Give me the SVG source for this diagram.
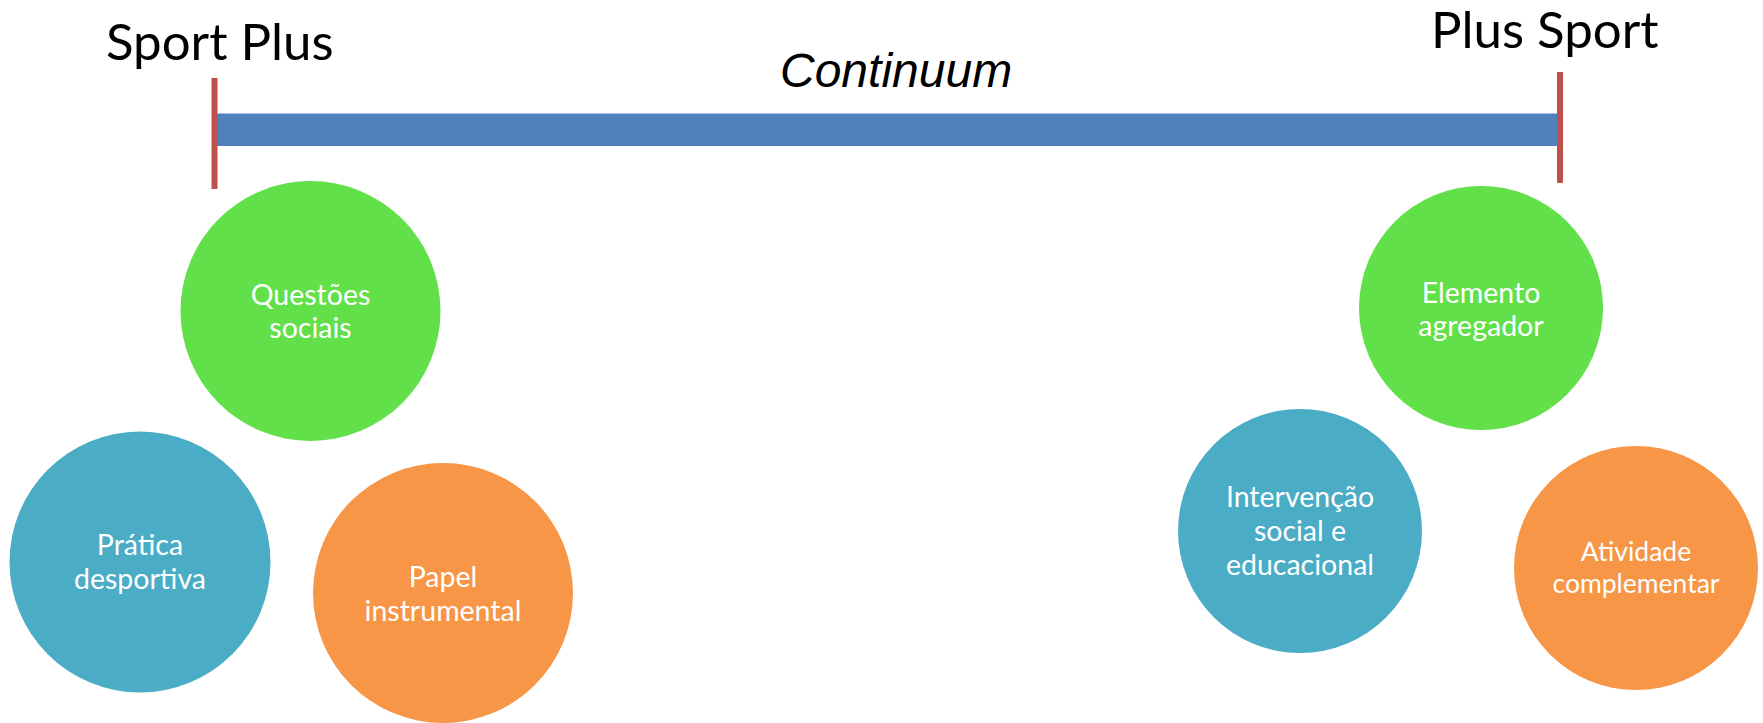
<svg xmlns="http://www.w3.org/2000/svg" width="1763" height="723" viewBox="0 0 1763 723">
  <style>
    .title { font-family: Lato, "Liberation Sans", sans-serif; font-size: 51px; fill: #000000; }
    .cont { font-family: "Liberation Sans", Arial, sans-serif; font-size: 48px; font-style: italic; fill: #000000; }
    .lbl { font-family: Lato, "Liberation Sans", sans-serif; font-size: 28.5px; fill: #FFFFFF; text-anchor: middle; }
    .sm { font-size: 26.5px; }
    .green { fill: #62E04A; }
    .blue { fill: #4BACC6; }
    .orange { fill: #F79646; }
    .bar { fill: #4F81BD; }
    .tick { fill: #C0504D; }
  </style>
  <rect x="0" y="0" width="1763" height="723" fill="#FFFFFF"/>

  <g id="continuum">
    <rect class="bar" x="216" y="113.5" width="1342" height="32.5"/>
    <rect class="tick" x="211.5" y="78" width="6" height="111"/>
    <rect class="tick" x="1557" y="72" width="6" height="111"/>
    <text class="title" x="106" y="60">Sport Plus</text>
    <text class="title" x="1431" y="48">Plus Sport</text>
    <text class="cont" x="780" y="87">Continuum</text>
  </g>

  <g id="connectors"></g>

  <g id="questoes-sociais">
    <circle class="green" cx="310.5" cy="311" r="130"/>
    <text class="lbl" x="310.5" y="305">Questões</text>
    <text class="lbl" x="310.5" y="338">sociais</text>
  </g>

  <g id="pratica-desportiva">
    <circle class="blue" cx="140" cy="562" r="130.5"/>
    <text class="lbl" x="140" y="555">Prática</text>
    <text class="lbl" x="140" y="589">desportiva</text>
  </g>

  <g id="papel-instrumental">
    <circle class="orange" cx="443" cy="593" r="130"/>
    <text class="lbl" x="443" y="587">Papel</text>
    <text class="lbl" x="443" y="621">instrumental</text>
  </g>

  <g id="elemento-agregador">
    <circle class="green" cx="1481" cy="308" r="122"/>
    <text class="lbl" x="1481" y="303">Elemento</text>
    <text class="lbl" x="1481" y="336">agregador</text>
  </g>

  <g id="intervencao-social">
    <circle class="blue" cx="1300" cy="531" r="122"/>
    <text class="lbl" x="1300" y="507">Intervenção</text>
    <text class="lbl" x="1300" y="541">social e</text>
    <text class="lbl" x="1300" y="575">educacional</text>
  </g>

  <g id="atividade-complementar">
    <circle class="orange" cx="1636" cy="568" r="122"/>
    <text class="lbl sm" x="1636" y="561">Atividade</text>
    <text class="lbl sm" x="1636" y="593">complementar</text>
  </g>
</svg>
